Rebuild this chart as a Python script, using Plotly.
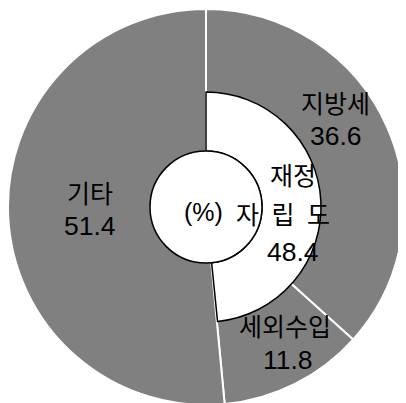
import plotly.graph_objects as go

# Data (%)
labels = ['지방세', '세외수입', '기타']
values = [36.6, 11.8, 51.4]
self_reliance_label = '재정 자립도'
self_reliance = 48.4  # 지방세 + 세외수입

W, H = 406, 403
OFF = 8                    # page body margin shifts the figure
CX, CY = 206 - OFF, 207 - OFF   # pie centre in figure pixels (from top-left)
R_OUT, R_MID, R_IN = 198, 115, 56
GRAY = '#808080'


def dom(r):
    # pixel circle -> paper domain
    y0 = H - CY
    return dict(x=[(CX - r) / W, (CX + r) / W],
                y=[(y0 - r) / H, (y0 + r) / H])


fig = go.Figure()

# outer disc: the three revenue sources in gray, white separators
fig.add_trace(go.Pie(
    labels=labels, values=values, sort=False, direction='clockwise', rotation=0,
    marker=dict(colors=[GRAY] * 3, line=dict(color='white', width=2)),
    textinfo='none', hoverinfo='label+value', showlegend=False,
    domain=dom(R_OUT),
))

# middle ring: self-reliance share in white
fig.add_trace(go.Pie(
    labels=[self_reliance_label, ''], values=[self_reliance, 100 - self_reliance],
    sort=False, direction='clockwise', rotation=0, hole=R_IN / R_MID,
    marker=dict(colors=['white', 'rgba(0,0,0,0)'],
                line=dict(color=['black', 'rgba(0,0,0,0)'], width=[1.5, 0])),
    textinfo='none', hoverinfo='skip', showlegend=False,
    domain=dom(R_MID),
))

# centre disc
fig.add_trace(go.Pie(
    labels=['(%)'], values=[100], sort=False,
    marker=dict(colors=['white'], line=dict(color='black', width=1.5)),
    textinfo='none', hoverinfo='skip', showlegend=False,
    domain=dom(R_IN),
))

KO = 'Noto Sans CJK KR'
NUM = 'Liberation Sans, Arial'


def px(x, y):
    # screenshot pixel -> paper coords
    return dict(x=(x - OFF) / W, y=1 - (y - OFF) / H, xref='paper', yref='paper',
                xanchor='center', yanchor='middle', showarrow=False)


notes = [
    (labels[0], 335, 102, KO, 25), (f'{values[0]}', 336, 136, NUM, 26.5),
    (labels[1], 285, 325, KO, 25), (f'{values[1]}', 288, 360, NUM, 26.5),
    (labels[2], 90, 192, KO, 25), (f'{values[2]}', 90, 226, NUM, 26.5),
    ('재정', 293, 174, KO, 25), ('자\u2002립\u2002도', 283, 213, KO, 25),
    (f'{self_reliance}', 293, 252, NUM, 26.5),
    ('(%)', 203, 212, NUM, 25),
]
for txt, x, y, fam, sz in notes:
    fig.add_annotation(text=txt, font=dict(family=fam, size=sz, color='black'), **px(x, y))

fig.update_layout(
    width=W, height=H,
    margin=dict(l=0, r=0, t=0, b=0),
    paper_bgcolor='white', plot_bgcolor='white',
)

fig.write_html('out.html')
